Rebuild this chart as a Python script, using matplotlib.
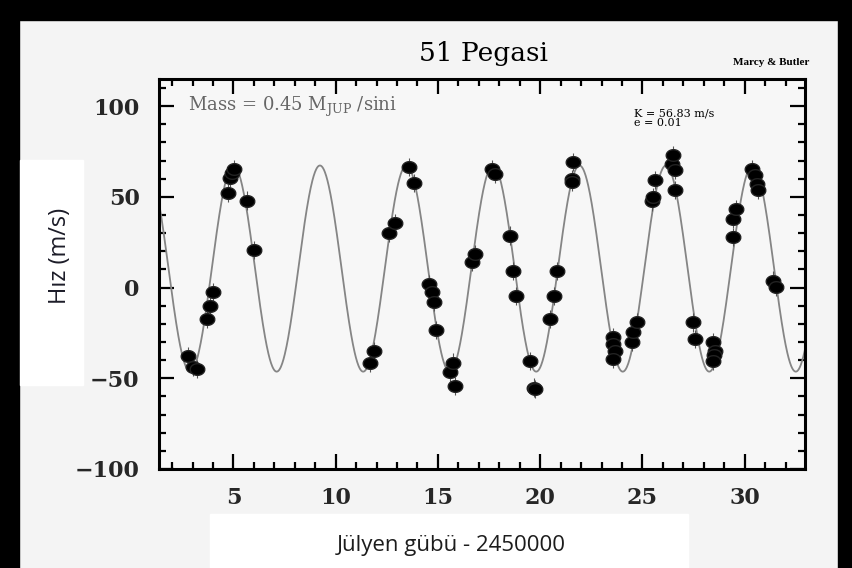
import matplotlib
matplotlib.use("Agg")
import matplotlib.pyplot as plt
import numpy as np
from matplotlib.patches import Rectangle
from matplotlib.ticker import MultipleLocator

# observation times (JD - 2450000) and radial velocities (m/s)
jd = [2.79, 3.03, 3.20, 3.69, 3.85, 4.01, 4.75, 4.83, 4.95, 5.03, 5.67, 6.02,
      11.67, 11.87, 12.62, 12.90, 13.60, 13.84, 14.57, 14.69, 14.80, 14.90,
      15.59, 15.72, 15.83, 16.65, 16.81,
      17.63, 17.79, 18.52, 18.68, 18.80, 19.50, 19.72, 19.76, 20.48, 20.67,
      20.80, 21.54, 21.58, 21.62,
      23.57, 23.57, 23.65, 23.57, 24.47, 24.55, 24.72, 25.45, 25.50, 25.61,
      26.47, 26.50, 26.59, 26.59, 27.48, 27.57, 28.46, 28.55, 28.50, 28.46,
      29.44, 29.44, 29.56, 30.34, 30.50, 30.58, 30.66, 31.40, 31.53]
vel = [-37.6, -44, -45, -17.3, -10.3, -2.6, 52.1, 60.6, 63, 65.6, 48, 20.8,
       -41.8, -35.2, 30, 35.5, 66.5, 57.6, 2, -2.6, -8.1, -23.2,
       -46.8, -41.3, -54.1, 14, 18.6,
       65.6, 62.8, 28.7, 9, -4.8, -40.3, -55.1, -56, -17.3, -4.8,
       9, 60, 58, 69.2,
       -27.5, -31.1, -34.8, -39.4, -30.2, -24.7, -19.2, 47.5, 50, 59.1,
       68.3, 72.9, 64.6, 53.6, -19.2, -28.3, -30.2, -34.8, -37, -40.3,
       27.8, 38, 43.5, 65.6, 61.9, 57.3, 53.6, 3.9, 0.2]
vel_err = 5

# orbit fit parameters
K = 56.83
period = 4.2308
t_peak = 5.0
v_offset = 10.5

x_ticks = [5, 10, 15, 20, 25, 30]
y_ticks = [-100, -50, 0, 50, 100]

fig = plt.figure(figsize=(8.52, 5.68), dpi=100)
fig.patch.set_facecolor("#f4f4f4")

# black border of the scan and white patches behind the labels
fig.patches.append(Rectangle((0, 0.965), 1, 0.035, transform=fig.transFigure,
                             color="black", zorder=0))
fig.patches.append(Rectangle((0, 0), 0.022, 1, transform=fig.transFigure,
                             color="black", zorder=0))
fig.patches.append(Rectangle((0.984, 0), 0.016, 1, transform=fig.transFigure,
                             color="black", zorder=0))
fig.patches.append(Rectangle((0.023, 0.322), 0.075, 0.397,
                             transform=fig.transFigure, color="white", zorder=0))
fig.patches.append(Rectangle((0.246, 0.0), 0.562, 0.095,
                             transform=fig.transFigure, color="white", zorder=0))

ax = fig.add_axes([0.1866, 0.1743, 0.7582, 0.6866])
ax.set_facecolor("#f7f7f7")

tt = np.linspace(1.36, 32.95, 1500)
ax.plot(tt, v_offset + K * np.cos(2 * np.pi * (tt - t_peak) / period),
        color="#858585", lw=1.3, zorder=2)

theta = np.linspace(0, 2 * np.pi, 40)
ellipse = np.column_stack([1.25 * np.cos(theta), np.sin(theta)])
ax.errorbar(jd, vel, yerr=vel_err, fmt="none", ecolor="#555555",
            elinewidth=0.8, zorder=3)
ax.plot(jd, vel, linestyle="none", marker=ellipse, markersize=10.5,
        color="black", markeredgecolor="#222222", zorder=4)

ax.set_xlim(1.36, 32.95)
ax.set_ylim(-100, 115)
ax.set_xticks(x_ticks)
ax.set_yticks(y_ticks)
ax.set_yticklabels([str(v).replace("-", "\u2212") for v in y_ticks])
ax.xaxis.set_minor_locator(MultipleLocator(1))
ax.yaxis.set_minor_locator(MultipleLocator(10))
ax.tick_params(which="both", direction="in", top=True, right=True,
               width=1.6, colors="black")
ax.tick_params(which="major", length=11, labelsize=16)
ax.tick_params(axis="x", which="major", pad=13)
ax.tick_params(axis="y", which="major", pad=14)
ax.tick_params(which="minor", length=5)
for lab in ax.get_xticklabels() + ax.get_yticklabels():
    lab.set_family("DejaVu Serif")
    lab.set_fontweight("bold")
    lab.set_color("#262626")
for sp in ax.spines.values():
    sp.set_linewidth(2.2)

fig.text(0.567, 0.905, "51 Pegasi", family="DejaVu Serif", fontsize=19,
         ha="center", va="center")
fig.text(0.905, 0.89, "Marcy & Butler", family="Liberation Serif", fontsize=8,
         fontweight="bold", ha="center", va="center")
plt.rcParams["mathtext.fontset"] = "dejavuserif"
ax.text(0.045, 0.96, "Mass = 0.45 M$_{\\mathrm{JUP}}$ /sini",
        transform=ax.transAxes, family="DejaVu Serif", fontsize=13,
        color="#666666", ha="left", va="top")
ax.text(0.735, 0.925, "K = 56.83 m/s\ne = 0.01", transform=ax.transAxes,
        family="DejaVu Serif", fontsize=8, ha="left", va="top",
        linespacing=1.0)

fig.text(0.071, 0.55, "H\u0131z (m/s)", family="Open Sans", fontsize=17,
         rotation=90, ha="center", va="center", color="#1c1c28")
fig.text(0.53, 0.04, "J\u00fclyen g\u00fcb\u00fc - 2450000",
         family="Open Sans", fontsize=16, ha="center", va="center",
         color="#1c1c1c")

fig.savefig("out.png", dpi=100, facecolor=fig.get_facecolor())
